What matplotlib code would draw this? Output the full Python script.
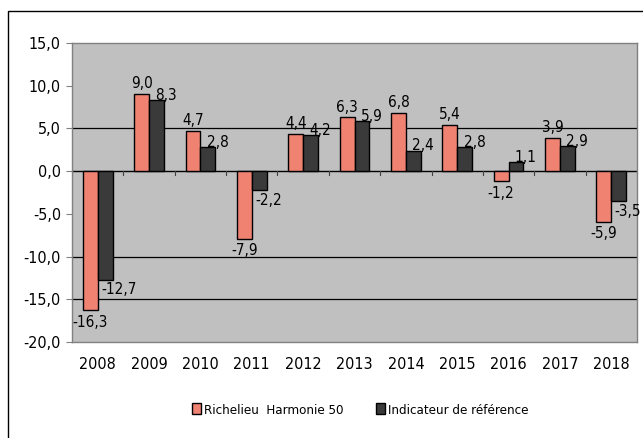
import matplotlib
matplotlib.use("Agg")
import matplotlib.pyplot as plt
from matplotlib.patches import Rectangle
from matplotlib import font_manager
import numpy as np

years = ["2008", "2009", "2010", "2011", "2012", "2013", "2014", "2015", "2016", "2017", "2018"]
fund = [-16.3, 9.0, 4.7, -7.9, 4.4, 6.3, 6.8, 5.4, -1.2, 3.9, -5.9]
bench = [-12.7, 8.3, 2.8, -2.2, 4.2, 5.9, 2.4, 2.8, 1.1, 2.9, -3.5]
series_names = ["Richelieu  Harmonie 50", "Indicateur de référence"]
yticks = [15, 10, 5, 0, -5, -10, -15, -20]

names = {f.name for f in font_manager.fontManager.ttflist}
fam = [n for n in ['Liberation Sans Narrow', 'DejaVu Sans'] if n in names]
plt.rcParams['font.family'] = fam
plt.rcParams['font.stretch'] = 'condensed'

fig = plt.figure(figsize=(6.43, 4.38), dpi=100)
ax = fig.add_axes([72/643, 1-342/438, (637-72)/643, (342-43)/438])
ax.set_facecolor('#C0C0C0')

# outer frame
fig.patches.append(Rectangle((8/643, -0.1), 1.2, 1-11/438+0.1, transform=fig.transFigure,
                             fill=False, edgecolor='black', lw=1.0))

x = np.arange(len(years))
w = 0.29
pink = '#F08272'
dark = '#3A3A3A'
for v in [5, -10, -15]:
    ax.axhline(v, color='black', lw=0.9, zorder=1)
ax.axhline(0, color='black', lw=1.0, zorder=1)

b1 = ax.bar(x - w/2, fund, w, color=pink, edgecolor='black', lw=1.0, zorder=2, label=series_names[0])
b2 = ax.bar(x + w/2, bench, w, color=dark, edgecolor='black', lw=1.0, zorder=2, label=series_names[1])

# category tick marks on the zero line
for b in np.arange(len(years) + 1) - 0.5:
    ax.plot([b, b], [0, -0.5], color='#404040', lw=0.8, zorder=1)

fs = 11
for xi, v in zip(x, fund):
    s = f"{v:.1f}".replace('.', ',')
    if v >= 0:
        ax.annotate(s, (xi - w/2, v), xytext=(0, 2), textcoords='offset points',
                    ha='center', va='bottom', fontsize=fs)
    else:
        ax.annotate(s, (xi - w/2, v), xytext=(0, -3), textcoords='offset points',
                    ha='center', va='top', fontsize=fs)
for xi, v in zip(x, bench):
    s = f"{v:.1f}".replace('.', ',')
    if v >= 0:
        ax.annotate(s, (xi + w/2, v), xytext=(7, -2), textcoords='offset points',
                    ha='center', va='bottom', fontsize=fs)
    else:
        ax.annotate(s, (xi + w/2, v), xytext=(-3, -2), textcoords='offset points',
                    ha='left', va='top', fontsize=fs)

ax.set_xlim(-0.5, len(years) - 0.5)
ax.set_ylim(-20, 15)
ax.set_yticks(yticks)
ax.set_yticklabels([f"{t:.1f}".replace('.', ',') for t in yticks], fontsize=fs + 0.5)
ax.set_xticks(x)
ax.set_xticklabels(years, fontsize=fs + 0.5)
ax.tick_params(axis='x', length=0, pad=11)
ax.tick_params(axis='y', length=4, direction='out', color='#808080', pad=4)
for s in ax.spines.values():
    s.set_color('#808080')
    s.set_linewidth(1.0)

fig.legend(handles=[b1, b2], loc='center', bbox_to_anchor=(0.56, 1-410/438), ncol=2,
           frameon=False, fontsize=9.5, handlelength=0.7, handleheight=0.9,
           handletextpad=0.2, columnspacing=2.5)

fig.savefig('out.png', dpi=100)
